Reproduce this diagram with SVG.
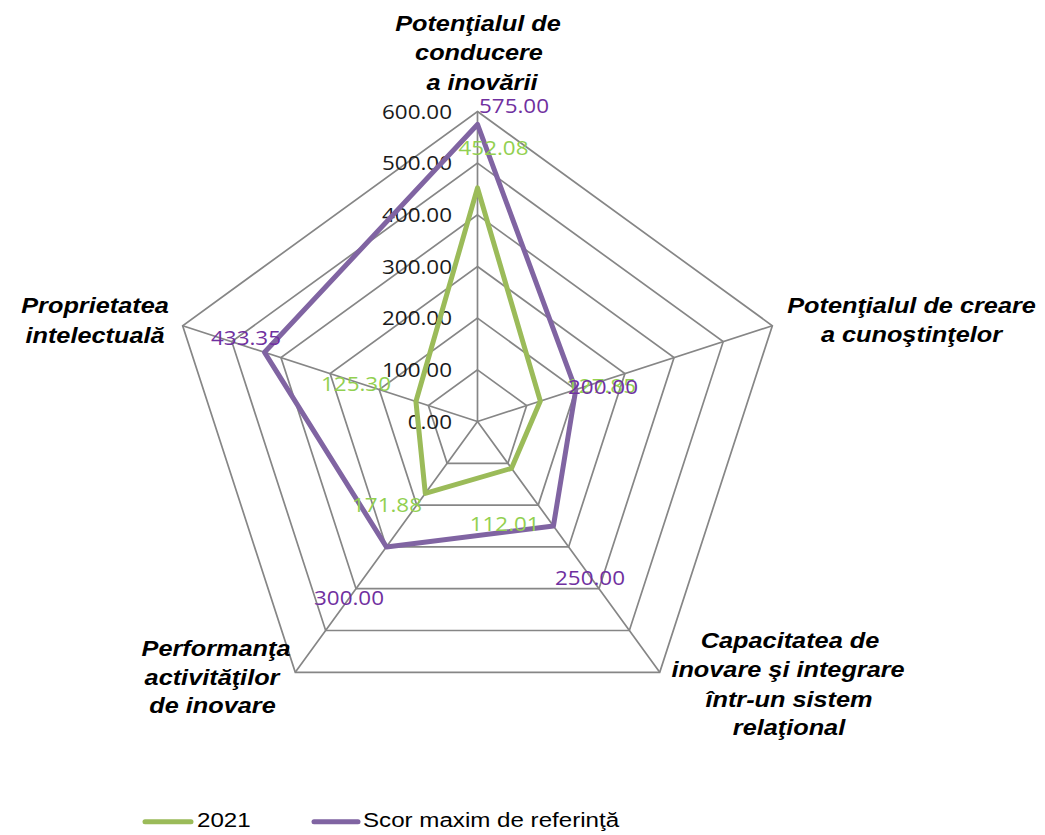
<svg xmlns="http://www.w3.org/2000/svg" width="1045" height="835" viewBox="0 0 1045 835">
<style>
.grid{fill:none;stroke:#868686;stroke-width:1.7}
.s1{fill:none;stroke:#9BBB59;stroke-width:5;stroke-linejoin:round}
.s2{fill:none;stroke:#8064A2;stroke-width:5;stroke-linejoin:round}
.num{font-family:"Open Sans",sans-serif;font-size:19.5px}
.ax{fill:#1a1a1a}
.g{fill:#92D050}
.p{fill:#7030A0}
.ttl{font-family:"Liberation Sans",Arial,sans-serif;font-size:22px;font-weight:bold;font-style:italic;fill:#000;text-anchor:middle}
.leg{font-family:"Liberation Sans",Arial,sans-serif;font-size:21px;fill:#000}
</style>
<rect width="1045" height="835" fill="#fff"/>
<g id="grid" transform="translate(477.5,421.5)">
<polygon class="grid" points="0,-51.67 49.14,-15.97 30.37,41.8 -30.37,41.8 -49.14,-15.97"/>
<polygon class="grid" points="0,-103.33 98.28,-31.93 60.74,83.6 -60.74,83.6 -98.28,-31.93"/>
<polygon class="grid" points="0,-155 147.41,-47.9 91.11,125.4 -91.11,125.4 -147.41,-47.9"/>
<polygon class="grid" points="0,-206.67 196.55,-63.87 121.48,167.2 -121.48,167.2 -196.55,-63.87"/>
<polygon class="grid" points="0,-258.33 245.69,-79.83 151.85,209 -151.85,209 -245.69,-79.83"/>
<polygon class="grid" points="0,-310 294.83,-95.8 182.22,250.8 -182.22,250.8 -294.83,-95.8"/>
<path class="grid" d="M0,0V-310M0,0L294.83,-95.8M0,0L182.22,250.8M0,0L-182.22,250.8M0,0L-294.83,-95.8"/>
</g>
<g id="axis-labels" class="num ax" text-anchor="end">
<text transform="translate(452,428.5) scale(1.15,1)">0.00</text>
<text transform="translate(452,376.8) scale(1.15,1)">100.00</text>
<text transform="translate(452,325.2) scale(1.15,1)">200.00</text>
<text transform="translate(452,273.5) scale(1.15,1)">300.00</text>
<text transform="translate(452,221.8) scale(1.15,1)">400.00</text>
<text transform="translate(452,170.2) scale(1.15,1)">500.00</text>
<text transform="translate(452,118.5) scale(1.15,1)">600.00</text>
</g>
<g id="connectors">
<polygon id="series-2021" class="s1" points="477.5,187.93 540.33,401.09 511.52,468.32 425.3,493.34 415.93,401.49"/>
<polygon id="series-max" class="s2" points="477.5,124.42 575.78,389.57 553.42,526 386.39,546.9 264.56,352.31"/>
</g>
<g id="data-labels" class="num" text-anchor="middle">
<text class="g" transform="translate(493.5,154.5) scale(1.15,1)">452.08</text>
<text class="g" transform="translate(601,393) scale(1.15,1)">127.85</text>
<text class="g" transform="translate(504.7,531) scale(1.15,1)">112.01</text>
<text class="g" transform="translate(387,511.7) scale(1.15,1)">171.88</text>
<text class="g" transform="translate(356,390.7) scale(1.15,1)">125.30</text>
<text class="p" transform="translate(514,113) scale(1.15,1)">575.00</text>
<text class="p" transform="translate(603,394) scale(1.15,1)">200.00</text>
<text class="p" transform="translate(590,585) scale(1.15,1)">250.00</text>
<text class="p" transform="translate(349,605) scale(1.15,1)">300.00</text>
<text class="p" transform="translate(246,345) scale(1.15,1)">433.35</text>
</g>
<g id="node-top">
<text class="ttl" transform="translate(478,31) scale(1.15,1)">Potenţialul de</text>
<text class="ttl" transform="translate(479,60) scale(1.15,1)">conducere</text>
<text class="ttl" transform="translate(482,90) scale(1.15,1)">a inovării</text>
</g>
<g id="node-right">
<text class="ttl" transform="translate(911.5,313) scale(1.15,1)">Potenţialul de creare</text>
<text class="ttl" transform="translate(911.5,342) scale(1.15,1)">a cunoştinţelor</text>
</g>
<g id="node-bottom-right">
<text class="ttl" transform="translate(790,648) scale(1.15,1)">Capacitatea de</text>
<text class="ttl" transform="translate(788,677) scale(1.15,1)">inovare şi integrare</text>
<text class="ttl" transform="translate(789,706.5) scale(1.15,1)">într-un sistem</text>
<text class="ttl" transform="translate(789,735) scale(1.15,1)">relaţional</text>
</g>
<g id="node-bottom-left">
<text class="ttl" transform="translate(216,656) scale(1.15,1)">Performanţa</text>
<text class="ttl" transform="translate(212,685) scale(1.15,1)">activităţilor</text>
<text class="ttl" transform="translate(212.5,713) scale(1.15,1)">de inovare</text>
</g>
<g id="node-left">
<text class="ttl" transform="translate(95,313) scale(1.15,1)">Proprietatea</text>
<text class="ttl" transform="translate(95,342.5) scale(1.15,1)">intelectuală</text>
</g>
<g id="legend">
<line x1="145" y1="821.7" x2="191" y2="821.7" stroke="#9BBB59" stroke-width="5" stroke-linecap="round"/>
<text class="leg" transform="translate(197,827) scale(1.15,1)">2021</text>
<line x1="314" y1="821.7" x2="358" y2="821.7" stroke="#8064A2" stroke-width="5" stroke-linecap="round"/>
<text class="leg" transform="translate(363,827) scale(1.15,1)">Scor maxim de referinţă</text>
</g>
</svg>
